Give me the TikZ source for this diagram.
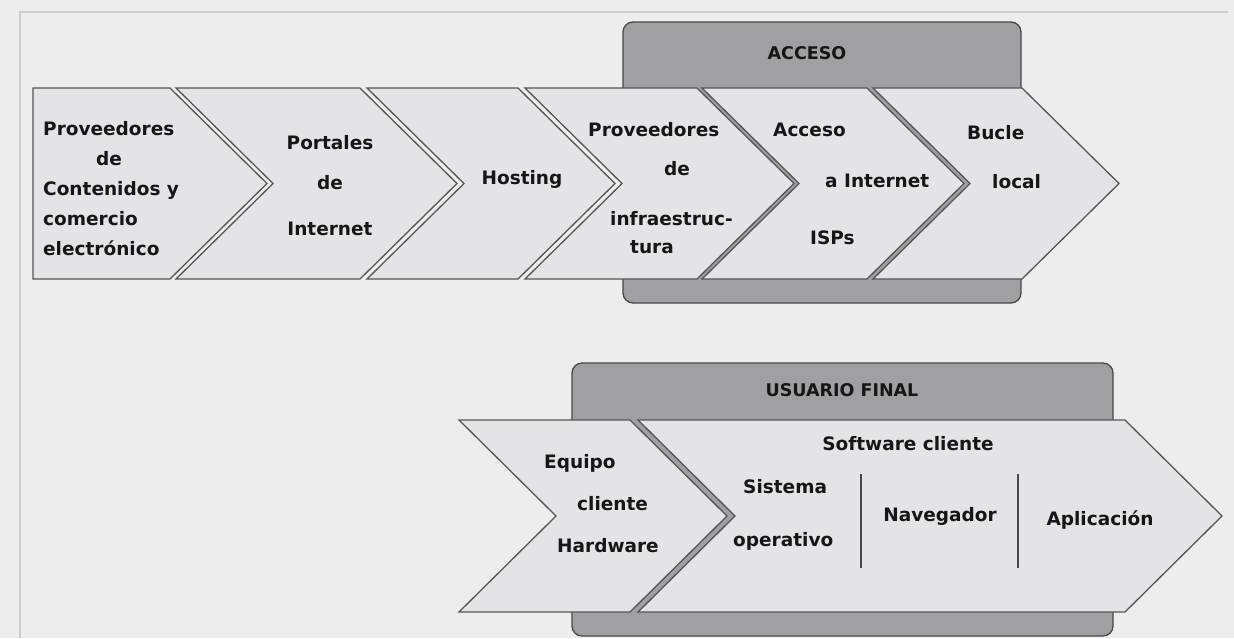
\documentclass[tikz,border=0pt]{standalone}
\usepackage{fontspec}
\setmainfont{DejaVu Sans}
\usetikzlibrary{positioning,calc}
\definecolor{bgc}{RGB}{237,237,237}
\definecolor{framec}{RGB}{205,205,205}
\definecolor{chevfill}{RGB}{228,228,230}
\definecolor{chevline}{RGB}{85,85,85}
\definecolor{boxfill}{RGB}{160,160,162}
\definecolor{boxline}{RGB}{72,72,72}
\definecolor{txt}{RGB}{22,22,22}
\tikzset{
  chevron/.style={draw=chevline,fill=chevfill,line width=1.3pt,line join=miter},
  stage/.style={draw=boxline,fill=boxfill,line width=1.3pt,rounded corners=10pt},
  lbl/.style={inner sep=0pt,text=txt,font={\fontsize{18.5}{#1}\selectfont\bfseries}},
  lbl/.default=30,
  head/.style={inner sep=0pt,text=txt,font={\fontsize{17.5}{20}\selectfont\bfseries}},
  sep/.style={draw=boxline,line width=1.5pt},
}
% left x, notch depth, right x, top y, bottom y
\newcommand{\chev}[5]{\draw[chevron] (#1,#4) -- (#3,#4) -- ({#3+97},{(#4+#5)/2}) -- (#3,#5) -- (#1,#5) -- ({#1+#2},{(#4+#5)/2}) -- cycle;}

\begin{document}
\begin{tikzpicture}[x=1pt,y=-1pt]
 \useasboundingbox[fill=bgc] (0,0) rectangle (1234,638);
 \draw[framec,line width=1.2pt] (20,638) -- (20,12) -- (1228,12);
 % stage boxes
 \draw[stage] (623,22) rectangle (1021,303);
 \node[head] (acceso) at (807,53) {ACCESO};
 \draw[stage] (572,363) rectangle (1113,636);
 \node[head] (usuario) at (842,390) {USUARIO FINAL};
 % value chain
 \chev{33}{0}{170}{88}{279}
 \chev{176}{97}{360}{88}{279}
 \chev{367}{97}{518}{88}{279}
 \chev{525}{97}{697}{88}{279}
 \chev{702}{97}{867}{88}{279}
 \chev{873}{97}{1022}{88}{279}
 \node[lbl=30,align=left,anchor=west] (contenidos) at (43,189)
   {Proveedores\\\hspace*{53pt}de\\Contenidos y\\comercio\\electrónico};
 \node[lbl=40,align=center] (portales) at (330,186) {Portales\\de\\[6pt]Internet};
 \node[lbl] (hosting) at (522,179) {Hosting};
 \node[lbl=28,align=left,anchor=west] (infra) at (588,188)
   {Proveedores\\[11pt]\hspace*{76pt}de\\[22pt]\hspace*{22pt}infraestruc-\\\hspace*{42pt}tura};
 \node[lbl=51,align=left,anchor=west] (isp) at (773,184)
   {Acceso\\\hspace*{52pt}a Internet\\[6pt]\hspace*{37pt}ISPs};
 \node[lbl=49,align=left,anchor=west] (bucle) at (967,157) {Bucle\\\hspace*{25pt}local};
 % end user
 \chev{459}{97}{630}{420}{612}
 \chev{638}{97}{1125}{420}{612}
 \node[lbl=42,align=left,anchor=west] (equipo) at (544,504)
   {Equipo\\\hspace*{33pt}cliente\\\hspace*{13pt}Hardware};
 \node[lbl] (software) at (908,444) {Software cliente};
 \node[lbl=53,align=left,anchor=west] (so) at (733,515) {\hspace*{10pt}Sistema\\operativo};
 \node[lbl] (nav) at (940,516) {Navegador};
 \node[lbl] (app) at (1100,520) {Aplicación};
 \coordinate (s1t) at (861,474);
 \coordinate (s1b) at (861,568);
 \coordinate (s2t) at (1018,474);
 \coordinate (s2b) at (1018,568);
 \draw[sep] (s1t) -- (s1b);
 \draw[sep] (s2t) -- (s2b);
\end{tikzpicture}
\end{document}
